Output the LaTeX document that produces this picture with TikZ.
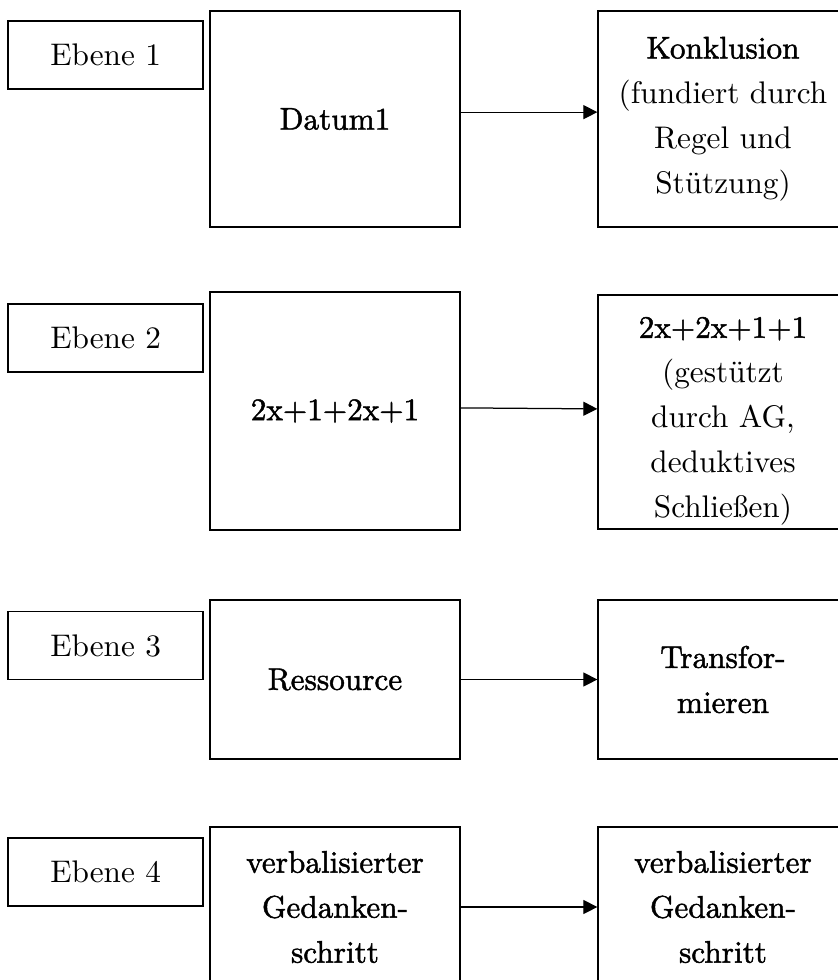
\documentclass[tikz,border=0pt]{standalone}
\usepackage{fontspec}
\newfontfamily\dick{lmroman10-regular.otf}[FakeBold=1.5]
\usetikzlibrary{arrows.meta}
\begin{document}
\begin{tikzpicture}[
			x=0.32pt, y=-0.32pt,
			ebene/.style={draw, minimum width=62.4pt, minimum height=21.8pt},
			stufe/.style={draw, align=center, minimum width=80pt,
					font=\fontsize{10pt}{14.4pt}\selectfont},
			pfeil/.style={-{Triangle[length=4.5pt,width=4.5pt]}}
		]
		\useasboundingbox (0,0) rectangle (837,980);
		\node[ebene] (e1) at (105.6,55) {Ebene 1};
		\node[stufe, minimum height=69.1pt] (d1) at (335,119) {\dick Datum1};
		\node[stufe, minimum height=69.1pt] (k1) at (723,119)
		{{\dick Konklusion}\\(fundiert durch\\Regel und\\Stützung)};
		\draw[pfeil] ([yshift=2.2pt]d1.east) -- ([yshift=2.2pt]k1.west);

		\node[ebene] (e2) at (105.6,338) {Ebene 2};
		\node[stufe, minimum height=76.2pt] (d2) at (335,411) {\dick 2x+1+2x+1};
		\node[stufe, minimum height=74.9pt, inner ysep=0pt] (k2) at (723,412)
		{\rule{0pt}{12.6pt}{\dick 2x+2x+1+1}\\(gestützt\\durch AG,\\deduktives\\Schließen)};
		\draw[pfeil] ([yshift=1pt]d2.east) -- ([yshift=1pt]k2.west);

		\node[ebene] (e3) at (105.6,645.5) {Ebene 3};
		\node[stufe, minimum height=50.9pt] (d3) at (335,679.5) {\dick Ressource};
		\node[stufe, minimum height=50.9pt] (k3) at (723,679.5)
		{\dick Transfor-\\\dick mieren};
		\draw[pfeil] (d3) -- (k3);

		\node[ebene] (e4) at (105.6,872) {Ebene 4};
		\node[stufe, minimum height=51.2pt] (d4) at (335,907)
		{\dick verbalisierter\\\dick Gedanken-\\\dick schritt};
		\node[stufe, minimum height=51.2pt] (k4) at (723,907)
		{\dick verbalisierter\\\dick Gedanken-\\\dick schritt};
		\draw[pfeil] (d4) -- (k4);
	\end{tikzpicture}
\end{document}
